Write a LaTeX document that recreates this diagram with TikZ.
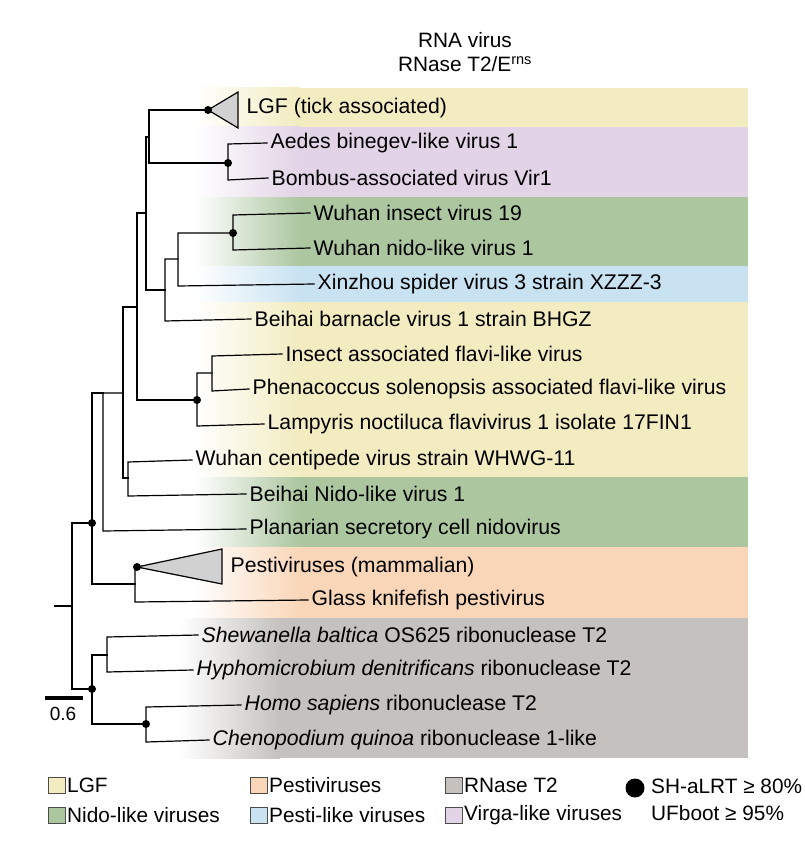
\documentclass[tikz,border=0pt]{standalone}
\usepackage{fontspec}
\setmainfont{Liberation Sans}
\begin{document}
\begin{tikzpicture}[x=1pt,y=-1pt,
  br/.style={line width=1.2pt,line cap=rect},
  dot/.style={circle,fill=black,inner sep=0pt,minimum size=8pt},
  leaf/.style={anchor=west,inner sep=3.5pt,font=\fontsize{21.2}{22}\selectfont},
  lg/.style={anchor=west,inner sep=0pt,font=\fontsize{20.8}{22}\selectfont},
  sq/.style={draw=black!70,line width=0.8pt},
  tri/.style={draw=black,fill=black!18,line width=1.2pt}]
\definecolor{cY}{RGB}{242,236,192}
\definecolor{cP}{RGB}{226,211,230}
\definecolor{cG}{RGB}{172,198,160}
\definecolor{cB}{RGB}{200,226,242}
\definecolor{cO}{RGB}{250,214,184}
\definecolor{cR}{RGB}{196,193,190}
\useasboundingbox (0,0) rectangle (804,845);
% bands
\foreach \a/\b/\c in {88/127/cY,127/197/cP,197/266/cG,266/302/cB,302/477/cY,477/547/cG,547/618/cO}{
  \shade[left color=white,right color=\c] (195,\a) rectangle (300,\b);
  \fill[\c] (299.5,\a) rectangle (748,\b);}
\shade[left color=white,right color=cR] (180,618) rectangle (280,758);
\fill[cR] (279.5,618) rectangle (748,758);
% title
\node[font=\fontsize{20.8}{22}\selectfont] (t1) at (465,40) {RNA virus};
\node[font=\fontsize{20.8}{22}\selectfont] (t2) at (465,64) {RNase T2/E\textsuperscript{rns}};
% leaves
\node[leaf] (lgf) at (243,108) {LGF (tick associated)};
\node[leaf] (aed) at (267,143) {Aedes binegev-like virus 1};
\node[leaf] (bom) at (268,178) {Bombus-associated virus Vir1};
\node[leaf] (w19) at (310,213) {Wuhan insect virus 19};
\node[leaf] (wnl) at (310,248) {Wuhan nido-like virus 1};
\node[leaf] (xin) at (314,284) {Xinzhou spider virus 3 strain XZZZ-3};
\node[leaf] (bbv) at (251,319) {Beihai barnacle virus 1 strain BHGZ};
\node[leaf] (ins) at (282,354) {Insect associated flavi-like virus};
\node[leaf] (phe) at (249,389) {Phenacoccus solenopsis associated flavi-like virus};
\node[leaf] (lam) at (264,424) {Lampyris noctiluca flavivirus 1 isolate 17FIN1};
\node[leaf] (wcv) at (192,460) {Wuhan centipede virus strain WHWG-11};
\node[leaf] (bnl) at (246,494) {Beihai Nido-like virus 1};
\node[leaf] (pla) at (246,529) {Planarian secretory cell nidovirus};
\node[leaf] (pes) at (227,567) {Pestiviruses (mammalian)};
\node[leaf] (gla) at (308,600) {Glass knifefish pestivirus};
\node[leaf] (she) at (198,635) {\textit{Shewanella baltica} OS625 ribonuclease T2};
\node[leaf] (hyp) at (193,670) {\textit{Hyphomicrobium denitrificans} ribonuclease T2};
\node[leaf] (hom) at (241,705) {\textit{Homo sapiens} ribonuclease T2};
\node[leaf] (che) at (209,740) {\textit{Chenopodium quinoa} ribonuclease 1-like};
% tree
\draw[br] (208,110) -- (149,110) -- (149,163) -- (228,163);
\draw[tri] (208,110) -- (238,92) -- (238,128) -- cycle;
\draw[br] (aed.west) -- (228,144) -- (228,180) -- (bom.west);
\draw[br] (w19.west) -- (233,215) -- (233,250) -- (wnl.west);
\draw[br] (233,233) -- (178,233) -- (178,286) -- (xin.west);
\draw[br] (178,259) -- (165,259) -- (165,321) -- (bbv.west);
\draw[br] (149,137) -- (146,137) -- (146,290) -- (165,290);
\draw[br] (ins.west) -- (212,356) -- (212,391) -- (phe.west);
\draw[br] (212,373) -- (197,373) -- (197,426) -- (lam.west);
\draw[br] (146,213) -- (137,213) -- (137,400) -- (197,400);
\draw[br] (137,307) -- (123,307) -- (123,478) -- (128,478);
\draw[br] (wcv.west) -- (128,462) -- (128,496) -- (bnl.west);
\draw[br] (123,393) -- (103,393) -- (103,531) -- (pla.west);
\draw[tri] (137,567) -- (222,549) -- (222,584) -- cycle;
\draw[br] (137,567) -- (135,567) -- (135,602) -- (gla.west);
\draw[br] (103,393) -- (92,393) -- (92,584) -- (135,584);
\draw[br] (92,523) -- (72,523) -- (72,689) -- (92,689);
\draw[br] (55,606) -- (72,606);
\draw[br] (she.west) -- (107,637) -- (107,672) -- (hyp.west);
\draw[br] (107,655) -- (92,655) -- (92,724) -- (146,724);
\draw[br] (hom.west) -- (146,707) -- (146,742) -- (che.west);
% dots
\foreach \p in {(208,110),(228,163),(233,233),(197,400),(92,523),(137,567),(92,689),(146,724)}
  \node[dot] at \p {};
% scale
\draw[line width=3.5pt] (45,698) coordinate (s0) -- (83,698) coordinate (s1);
\node[font=\fontsize{19}{20}\selectfont] (sc) at (63,714) {0.6};
% legend
\foreach \x/\y/\c/\t/\n in {48/785/cY/LGF/a,48/815/cG/Nido-like viruses/b,250/785/cO/Pestiviruses/c,250/815/cB/Pesti-like viruses/d,445/785/cR/RNase T2/e,445/815/cP/Virga-like viruses/f}{
  \draw[sq,fill=\c] (\x,\y-8) rectangle (\x+17,\y+8);
  \node[lg] (lg\n) at (\x+19,\y) {\t};}
\node[dot,minimum size=19pt] (ld) at (635,788) {};
\node[lg] (s1t) at (651,786) {SH-aLRT ≥ 80\%};
\node[lg] (s2t) at (651,813) {UFboot ≥ 95\%};
\end{tikzpicture}
\end{document}
